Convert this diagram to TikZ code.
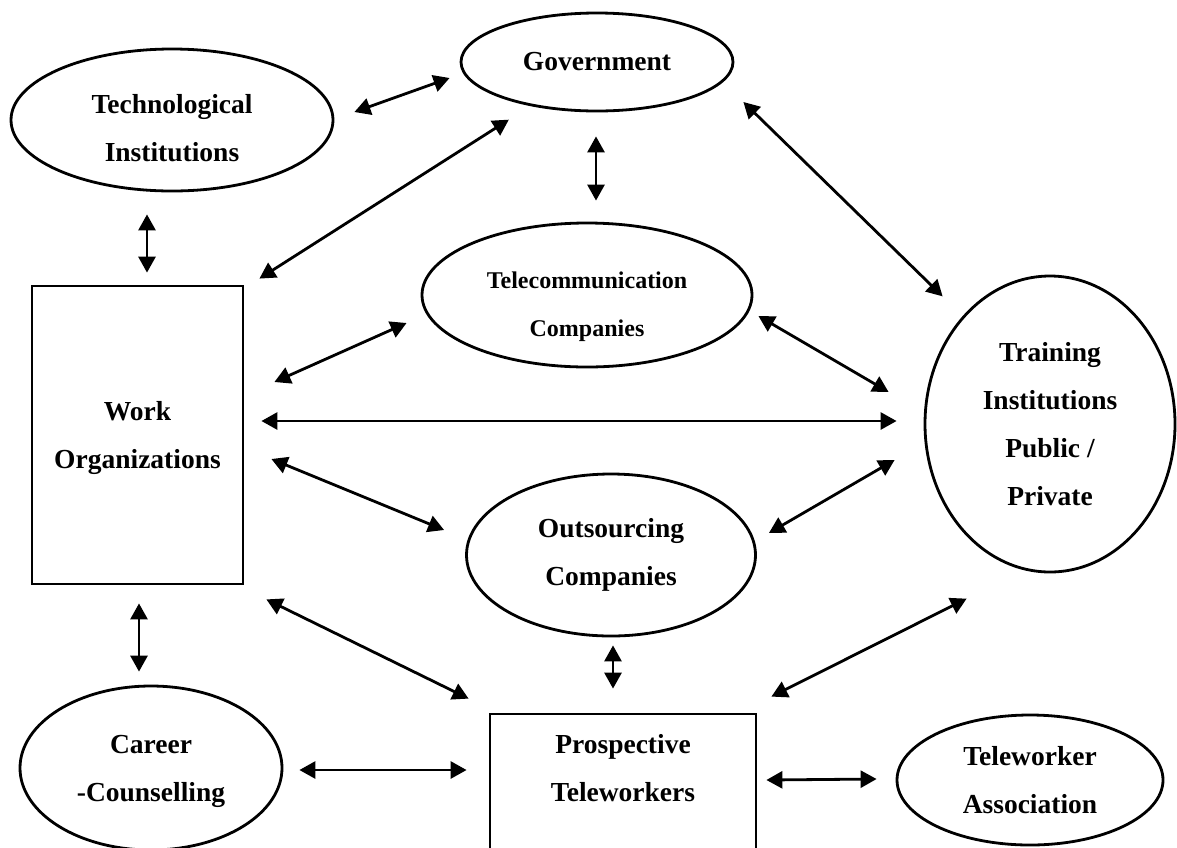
\documentclass[tikz,border=0pt]{standalone}
\usepackage{fontspec}
\setmainfont{Liberation Serif}
\usetikzlibrary{shapes.geometric,arrows.meta}

% strut that pushes the text of a node down
\newcommand{\topgap}[1]{\rule{0pt}{#1pt}}

\begin{document}
\begin{tikzpicture}[x=1pt,y=-1pt,
	every node/.style={draw,line width=2.8pt,inner sep=0pt,align=center,
		font=\fontsize{27.5pt}{48pt}\selectfont\bfseries},
	oval/.style={ellipse},
	box/.style={rectangle},
	link/.style={line width=2.8pt,
		{Triangle[length=16pt,width=17pt]}-{Triangle[length=16pt,width=17pt]}}]
	
	\useasboundingbox (0,0) rectangle (1177,847);
	\clip (0,0) rectangle (1177,847);
	
	\node[oval,minimum width=272pt,minimum height=98pt] (gov) at (597,62) {Government};
	\node[oval,minimum width=322pt,minimum height=142pt] (tech) at (172,120) {\topgap{35}Technological\\Institutions};
	\node[oval,minimum width=330pt,minimum height=144pt,
		font=\fontsize{24pt}{48pt}\selectfont\bfseries] (tele) at (587,295) {\topgap{41}Telecommunication\\Companies};
	\node[oval,minimum width=250pt,minimum height=296pt] (train) at (1050,424) {Training\\Institutions\\Public /\\Private};
	\node[oval,minimum width=289pt,minimum height=162pt] (out) at (611,555) {Outsourcing\\Companies};
	\node[box,minimum width=211pt,minimum height=298pt] (work) at (137.5,435) {\topgap{25}Work\\Organizations};
	\node[oval,minimum width=262pt,minimum height=164pt] (career) at (151,768) {\topgap{26}Career\\-Counselling};
	\node[box,minimum width=266pt,minimum height=156pt] (pros) at (623,792) {Prospective\\Teleworkers\\\mbox{}};
	\node[oval,minimum width=266pt,minimum height=130pt] (assoc) at (1030,780) {Teleworker\\Association};
	
	\draw[link] ([shift={(20,-8)}]tech.east) -- ([shift={(-10,16)}]gov.west);
	\draw[link] ([shift={(-25,22)}]tech.south) -- ([shift={(9.5,-12)}]work.north);
	\draw[link] ([shift={(-1,24)}]gov.south) -- ([shift={(9,-21)}]tele.north);
	\draw[link] ([shift={(15,-6)}]work.north east) -- ([shift={(9,22)}]gov.south west);
	\draw[link] ([shift={(9,40)}]gov.east) -- ([shift={(-18,-22)}]train.north west);
	\draw[link] ([shift={(30,-53)}]work.east) -- ([shift={(-14,28)}]tele.west);
	\draw[link] ([shift={(5,21)}]tele.east) -- ([shift={(-35,-32)}]train.west);
	\draw[link] ([shift={(17,-14)}]work.east) -- ([shift={(-27,-3)}]train.west);
	\draw[link] ([shift={(27,24)}]work.east) -- ([shift={(-21,-25)}]out.west);
	\draw[link] ([shift={(12,-22)}]out.east) -- ([shift={(-29,36)}]train.west);
	\draw[link] ([shift={(22,14)}]work.south east) -- ([shift={(-20,-14)}]pros.north west);
	\draw[link] ([shift={(2,8)}]out.south) -- ([shift={(-10,-24)}]pros.north);
	\draw[link] ([shift={(14,-16)}]pros.north east) -- ([shift={(6,69)}]train.south west);
	\draw[link] ([shift={(1.5,18)}]work.south) -- ([shift={(-12,-13)}]career.north);
	\draw[link] ([shift={(16,2)}]career.east) -- ([shift={(-22,-22)}]pros.west);
	\draw[link] ([shift={(9,-12)}]pros.east) -- ([shift={(-19,-1)}]assoc.west);
	
\end{tikzpicture}
\end{document}
